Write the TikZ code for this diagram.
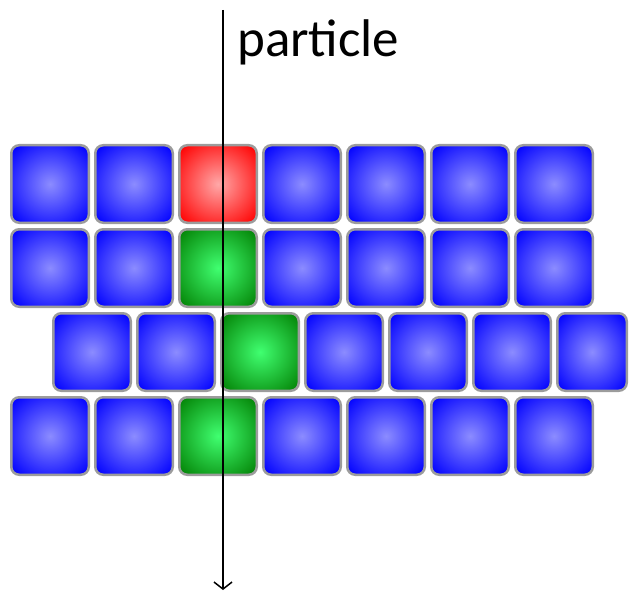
\documentclass[tikz,border=0pt]{standalone}
\usepackage{fontspec}
\setmainfont{Carlito}
\usepackage{tikz}
\usetikzlibrary{arrows.meta}
\definecolor{cellblue}{HTML}{0000FF}
\definecolor{cellbluehi}{HTML}{8C8CFF}
\definecolor{cellred}{HTML}{FF0000}
\definecolor{cellredhi}{HTML}{FFA8A8}
\definecolor{cellgreen}{HTML}{007C00}
\definecolor{cellgreenhi}{HTML}{40FF70}
\definecolor{rimgrey}{HTML}{9C9C9C}
\newcommand{\pitch}{84}
\pgfdeclareradialshading{blueglow}{\pgfpoint{0bp}{0bp}}
  {color(0bp)=(cellbluehi); color(34bp)=(cellblue); color(50bp)=(cellblue)}
\pgfdeclareradialshading{redglow}{\pgfpoint{0bp}{0bp}}
  {color(0bp)=(cellredhi); color(34bp)=(cellred); color(50bp)=(cellred)}
\pgfdeclareradialshading{greenglow}{\pgfpoint{0bp}{0bp}}
  {color(0bp)=(cellgreenhi); color(36bp)=(cellgreen); color(50bp)=(cellgreen)}

\begin{document}
\begin{tikzpicture}[
    x=1pt, y=-1pt,
    cell/.style={
      draw=rimgrey, line width=2.5pt, rounded corners=8pt,
      minimum width=77.5pt, minimum height=77.5pt, inner sep=0pt
    },
    blue cell/.style={cell, shading=blueglow},
    red cell/.style={cell, shading=redglow},
    green cell/.style={cell, shading=greenglow},
    track/.style={-{Straight Barb[length=7pt,width=18pt]}, line width=1.5pt},
    tag/.style={font=\fontsize{53}{60}\selectfont, inner sep=0pt, anchor=base west}
  ]
  \useasboundingbox (0,0) rectangle (629,591);

  % --- rangees alignees : 1, 2 et 4 -------------------------------------
  \foreach \row/\yy/\hue in {1/184/red cell, 2/268/green cell, 4/436/green cell}
    \foreach \col in {1,...,7}
      {\ifnum\col=3 \def\kind{\hue}\else \def\kind{blue cell}\fi
       \node[\kind] (c\row-\col) at ({50+(\col-1)*\pitch}, \yy) {};}

  % --- rangee decalee : 3 -----------------------------------------------
  \foreach \col in {1,...,6}
    {\ifnum\col=3 \def\kind{green cell}\else \def\kind{blue cell}\fi
     \node[\kind] (c3-\col) at ({92+(\col-1)*\pitch}, 352) {};}
  \node[blue cell, minimum width=69.5pt] (c3-7) at (592, 352) {};

  % --- trajectoire de la particule --------------------------------------
  \coordinate (entry) at (223, 10);
  \coordinate (exit)  at (223, 590);
  \draw[track] (entry) -- (exit);
  \node[tag] (lbl) at (237, 57) {particle};

\end{tikzpicture}
\end{document}
